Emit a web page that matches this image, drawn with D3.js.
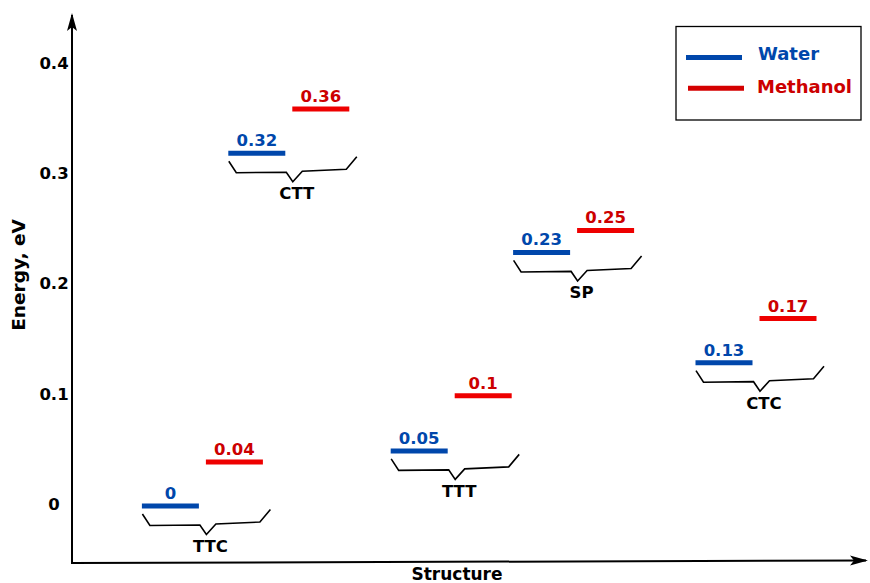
<!DOCTYPE html>
<html>
<head>
<meta charset="utf-8">
<script src="https://cdn.jsdelivr.net/npm/d3@7"></script>
<style>
  body { margin: 0; background: #fff; }
  svg { display: block; font-family: "DejaVu Sans", sans-serif; font-weight: bold; }
</style>
</head>
<body>
<div id="chart"></div>
<script>
// data
const structures = ["TTC", "CTT", "TTT", "SP", "CTC"];
const structPos = [1.63, 2.71, 4.74, 6.27, 8.55]; // position along structure axis
const water = [0, 0.32, 0.05, 0.23, 0.13];
const methanol = [0.04, 0.36, 0.1, 0.25, 0.17];
const yTicks = [0, 0.1, 0.2, 0.3, 0.4];
const seriesNames = ["Water", "Methanol"];

const blue = "#0047ab";
const red = "#ee0000";
const redText = "#cc0000";

const width = 870, height = 583;

const svg = d3.select("#chart").append("svg")
    .attr("width", width)
    .attr("height", height);

const x = d3.scaleLinear().domain([0, 10]).range([72, 872]);
const y = d3.scaleLinear().domain([0, 0.4]).range([506, 65]);

// arrowhead
svg.append("defs").append("marker")
    .attr("id", "arrow")
    .attr("viewBox", "-18 -6 20 12")
    .attr("markerUnits", "userSpaceOnUse")
    .attr("markerWidth", 20)
    .attr("markerHeight", 12)
    .attr("refX", 0)
    .attr("refY", 0)
    .attr("orient", "auto")
    .append("path")
    .attr("d", "M2,0 L-16,-5 L-12,0 L-16,5 Z")
    .attr("fill", "#000");

// axes
svg.append("line")
    .attr("x1", 72).attr("y1", 563)
    .attr("x2", 72).attr("y2", 15)
    .attr("stroke", "#000").attr("stroke-width", 2)
    .attr("marker-end", "url(#arrow)");

svg.append("line")
    .attr("x1", 71).attr("y1", 563)
    .attr("x2", 866).attr("y2", 560.5)
    .attr("stroke", "#000").attr("stroke-width", 2)
    .attr("marker-end", "url(#arrow)");

const yAxis = svg.append("g")
    .attr("transform", "translate(72,0)")
    .call(d3.axisLeft(y).tickValues(yTicks).tickSize(0).tickFormat(d3.format("~g")));
yAxis.select(".domain").remove();
yAxis.selectAll("text")
    .attr("x", -18)
    .attr("dy", "0.2em")
    .attr("text-anchor", "middle")
    .attr("font-family", "DejaVu Sans")
    .attr("font-weight", "bold")
    .attr("font-size", 16.5)
    .attr("fill", "#000");

svg.append("text")
    .attr("x", 457).attr("y", 580)
    .attr("text-anchor", "middle")
    .attr("font-size", 17)
    .text("Structure");

svg.append("text")
    .attr("transform", "translate(25,275) rotate(-90)")
    .attr("text-anchor", "middle")
    .attr("font-size", 18.5)
    .text("Energy, eV");

// levels
const rows = structures.map((s, i) => ({ name: s, pos: structPos[i], w: water[i], m: methanol[i] }));

const halfBar = 28.5;
const sep = 32;

const g = svg.selectAll(".level")
    .data(rows)
    .enter().append("g")
    .attr("class", "level");

g.append("line")
    .attr("x1", d => x(d.pos) - sep - halfBar)
    .attr("x2", d => x(d.pos) - sep + halfBar)
    .attr("y1", d => y(d.w))
    .attr("y2", d => y(d.w))
    .attr("stroke", blue).attr("stroke-width", 5);

g.append("line")
    .attr("x1", d => x(d.pos) + sep - halfBar)
    .attr("x2", d => x(d.pos) + sep + halfBar)
    .attr("y1", d => y(d.m))
    .attr("y2", d => y(d.m))
    .attr("stroke", red).attr("stroke-width", 5);

g.append("text")
    .attr("x", d => x(d.pos) - sep)
    .attr("y", d => y(d.w) - 7)
    .attr("text-anchor", "middle")
    .attr("font-size", 16.5)
    .attr("fill", blue)
    .text(d => d3.format("~g")(d.w));

g.append("text")
    .attr("x", d => x(d.pos) + sep)
    .attr("y", d => y(d.m) - 7)
    .attr("text-anchor", "middle")
    .attr("font-size", 16.5)
    .attr("fill", redText)
    .text(d => d3.format("~g")(d.m));

// braces under each pair
const brace = [[-60, 8], [-52.5, 19.5], [-2.5, 19], [4, 28.5], [13.5, 18], [57.5, 16], [68, 3.5]];
g.append("path")
    .attr("d", d => d3.line()(brace.map(p => [x(d.pos) + p[0], y(d.w) + p[1]])))
    .attr("fill", "none")
    .attr("stroke", "#000")
    .attr("stroke-width", 1.6);

g.append("text")
    .attr("x", d => x(d.pos) + 8)
    .attr("y", d => y(d.w) + 46)
    .attr("text-anchor", "middle")
    .attr("font-size", 16.5)
    .attr("fill", "#000")
    .text(d => d.name);

// legend
const legend = svg.append("g");
legend.append("rect")
    .attr("x", 676).attr("y", 26.5)
    .attr("width", 185).attr("height", 93.5)
    .attr("fill", "#fff")
    .attr("stroke", "#000").attr("stroke-width", 1.3);

const legColors = [blue, "#d40000"];
const legText = [blue, redText];
seriesNames.forEach((s, i) => {
    const ly = 57.5 + i * 30.7;
    legend.append("line")
        .attr("x1", 686 + i * 2).attr("x2", 742 + i * 2)
        .attr("y1", ly).attr("y2", ly)
        .attr("stroke", legColors[i]).attr("stroke-width", 5);
    legend.append("text")
        .attr("x", 758 - i)
        .attr("y", ly + 2.5 + i * 2)
        .attr("font-size", 18)
        .attr("fill", legText[i])
        .text(s);
});
</script>
</body>
</html>
